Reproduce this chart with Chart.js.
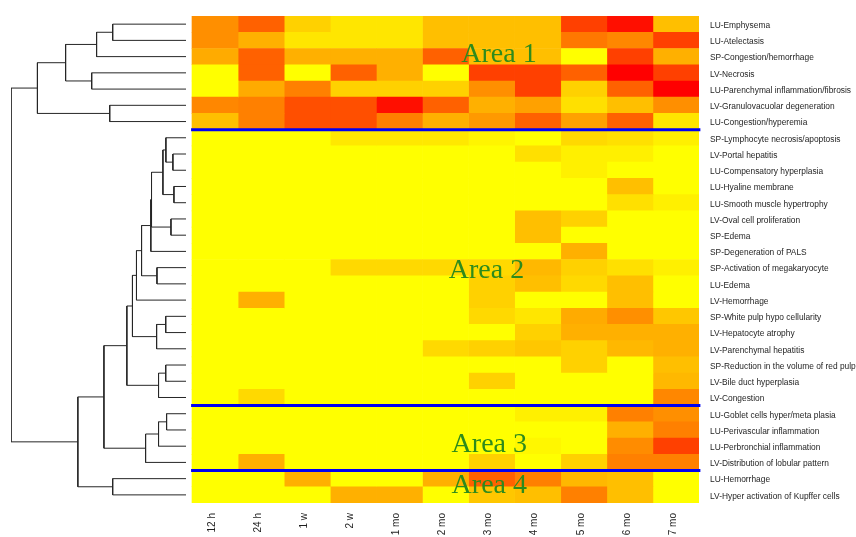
<!DOCTYPE html>
<html>
<head>
<meta charset="utf-8">
<script src="https://cdn.jsdelivr.net/npm/chart.js@4/dist/chart.umd.min.js"></script>
<style>
  html, body { margin: 0; padding: 0; background: #ffffff; }
  #wrap { width: 856px; height: 537px; }
</style>
</head>
<body>
<div id="wrap"><canvas id="c" width="856" height="537"></canvas></div>
<script>
// ---------------- DATA ----------------
const timePoints = ['12 h','24 h','1 w','2 w','1 mo','2 mo','3 mo','4 mo','5 mo','6 mo','7 mo'];

const lesions = [
  'LU-Emphysema',
  'LU-Atelectasis',
  'SP-Congestion/hemorrhage',
  'LV-Necrosis',
  'LU-Parenchymal inflammation/fibrosis',
  'LV-Granulovacuolar degeneration',
  'LU-Congestion/hyperemia',
  'SP-Lymphocyte necrosis/apoptosis',
  'LV-Portal hepatitis',
  'LU-Compensatory hyperplasia',
  'LU-Hyaline membrane',
  'LU-Smooth muscle hypertrophy',
  'LV-Oval cell proliferation',
  'SP-Edema',
  'SP-Degeneration of PALS',
  'SP-Activation of megakaryocyte',
  'LU-Edema',
  'LV-Hemorrhage',
  'SP-White pulp hypo cellularity',
  'LV-Hepatocyte atrophy',
  'LV-Parenchymal hepatitis',
  'SP-Reduction in the volume of red pulp',
  'LV-Bile duct hyperplasia',
  'LV-Congestion',
  'LU-Goblet cells hyper/meta plasia',
  'LU-Perivascular inflammation',
  'LU-Perbronchial inflammation',
  'LV-Distribution of lobular pattern',
  'LU-Hemorrhage',
  'LV-Hyper activation of Kupffer cells'
];

// Relative lesion intensity (0 = none, 100 = maximal), one row per lesion, one column per time point
const scores = [
  [44, 62, 18, 10, 10, 25, 25, 25, 75, 94, 25],
  [44, 31, 10, 10, 10, 25, 25, 25, 53, 47, 75],
  [33, 62, 31, 31, 31, 62, 25, 25,  0, 75, 31],
  [ 0, 62,  0, 62, 31,  0, 75, 75, 62,100, 75],
  [ 0, 33, 50, 18, 18, 18, 44, 75, 18, 62,100],
  [47, 50, 69, 69, 94, 62, 31, 37, 12, 25, 44],
  [25, 50, 69, 69, 50, 31, 40, 62, 37, 62, 10],
  [ 0,  0,  0,  9,  9,  9,  4,  0, 15, 12,  6],
  [ 0,  0,  0,  0,  0,  0,  0, 12,  6,  6,  0],
  [ 0,  0,  0,  0,  0,  0,  0,  0,  6,  0,  0],
  [ 0,  0,  0,  0,  0,  0,  0,  0,  0, 25,  0],
  [ 0,  0,  0,  0,  0,  0,  0,  0,  0, 12,  6],
  [ 0,  0,  0,  0,  0,  0,  0, 25, 18,  0,  0],
  [ 0,  0,  0,  0,  0,  0,  0, 25,  0,  0,  0],
  [ 0,  0,  0,  0,  0,  0,  0,  0, 31,  0,  0],
  [ 0,  0,  0, 15, 15, 15, 15, 28, 18, 12,  6],
  [ 0,  0,  0,  0,  0,  0, 18, 25, 15, 25,  0],
  [ 0, 31,  0,  0,  0,  0, 18,  0,  0, 25,  0],
  [ 0,  0,  0,  0,  0,  0, 15, 10, 33, 44, 22],
  [ 0,  0,  0,  0,  0,  0,  0, 18, 31, 31, 31],
  [ 0,  0,  0,  0,  0, 15, 18, 22, 18, 28, 31],
  [ 0,  0,  0,  0,  0,  0,  0,  0, 18,  0, 25],
  [ 0,  0,  0,  0,  0,  0, 18,  0,  0,  0, 28],
  [ 0, 15,  0,  0,  0,  0,  0,  0,  0,  0, 47],
  [ 0,  0,  0,  0,  0,  0,  0,  6,  6, 50, 44],
  [ 0,  0,  0,  0,  0,  0,  0,  0,  0, 31, 50],
  [ 0,  0,  0,  0,  0,  0,  0,  3,  0, 45, 75],
  [ 0, 31,  0,  0,  0,  0, 18,  0, 18, 50, 50],
  [ 0,  0, 31,  0,  0, 31, 62, 50, 28, 25,  0],
  [ 0,  0,  0, 31, 31,  0, 22, 25, 50, 25,  0]
];

// Hierarchical clustering of the rows (hclust convention: negative = leaf -(row+1), positive = earlier merge step)
const mergeLeft   = [-1,  1, -4,  2, -6,  4, -9, -8, -11,  8, -13, 10, 12, -16, 13, 15, -19, 17, 16, -22, 20, 19, -25, 23, 24, 22, -29, 26,  6];
const mergeRight  = [-2, -3, -5,  3, -7,  5, -10, 7, -12,  9, -14, 11, -15, -17, 14, -18, -20, -21, 18, -23, -24, 21, -26, -27, -28, 25, -30, 27, 28];
const mergeHeight = [4.19, 5.11, 5.39, 6.88, 4.36, 8.49, 0.75, 1.15, 0.69, 1.32, 0.86, 1.97, 2.01, 1.66, 2.54, 2.83, 1.16, 1.68, 3.06, 1.16, 1.57, 3.38, 1.11, 1.57, 2.31, 4.69, 4.19, 6.18, 10.0];

// Cluster areas (last row index of each area) and their names
const areaNames = ['Area 1', 'Area 2', 'Area 3', 'Area 4'];
const areaLastRow = [6, 23, 27, 29];

// ---------------- PRESENTATION ----------------
const layout = {
  xMin: -3.927,               // left part of the x axis holds the dendrogram
  leafX: -0.13,               // where dendrogram leaves end
  dendroUnit: 0.3797,         // x-units per unit of merge height
  areaText: [                 // label anchor (x in column units, y in row units)
    { x: 6.66, y: 2.32 },
    { x: 6.39, y: 15.66 },
    { x: 6.45, y: 26.37 },
    { x: 6.45, y: 28.87 }
  ]
};

function heatColor(v) {
  const g = Math.round(255 * (1 - v / 100));
  return 'rgb(255,' + g + ',0)';
}

// Heatmap: one floating-bar dataset per time point
const heatDatasets = timePoints.map((tp, c) => ({
  type: 'bar',
  label: tp,
  indexAxis: 'y',
  grouped: false,
  barPercentage: 1,
  categoryPercentage: 1,
  borderWidth: 0,
  order: 5,
  data: lesions.map((_, r) => ({ y: r, x: [c, c + 1] })),
  backgroundColor: ctx => heatColor(scores[ctx.dataIndex][c])
}));

// Dendrogram path built from the merge table
function buildDendrogram() {
  const nodeY = [], nodeH = [];
  const pts = [];
  const xOf = h => layout.leafX - h * layout.dendroUnit;
  const info = id => id < 0 ? { y: -id - 1, h: 0 } : { y: nodeY[id - 1], h: nodeH[id - 1] };
  for (let k = 0; k < mergeHeight.length; k++) {
    const a = info(mergeLeft[k]), b = info(mergeRight[k]);
    const H = mergeHeight[k];
    nodeY[k] = (a.y + b.y) / 2;
    nodeH[k] = H;
    pts.push({ x: xOf(a.h), y: a.y }, { x: xOf(H), y: a.y }, { x: xOf(H), y: b.y }, { x: xOf(b.h), y: b.y }, { x: null, y: null });
  }
  return pts;
}

function buildSeparators() {
  const pts = [];
  for (let i = 0; i < areaLastRow.length - 1; i++) {
    const b = areaLastRow[i] + 0.5;
    pts.push({ x: -0.02, y: b }, { x: timePoints.length + 0.03, y: b }, { x: null, y: null });
  }
  return pts;
}

const areaLabelPlugin = {
  id: 'areaLabels',
  afterDatasetsDraw(chart) {
    const { ctx, scales: { x, y } } = chart;
    ctx.save();
    ctx.font = '28px "Liberation Serif", "Times New Roman", serif';
    ctx.fillStyle = '#2E8B1C';
    ctx.textAlign = 'center';
    ctx.textBaseline = 'alphabetic';
    areaNames.forEach((name, i) => {
      const p = layout.areaText[i];
      ctx.fillText(name, x.getPixelForValue(p.x), y.getPixelForValue(p.y));
    });
    ctx.restore();
  }
};

new Chart(document.getElementById('c'), {
  data: {
    datasets: [
      {
        type: 'line',
        label: 'separators',
        data: buildSeparators(),
        borderColor: '#0000F0',
        borderWidth: 3,
        pointRadius: 0,
        spanGaps: false,
        tension: 0,
        fill: false,
        clip: false,
        order: 0
      },
      {
        type: 'line',
        label: 'dendrogram',
        data: buildDendrogram(),
        borderColor: '#262626',
        borderWidth: 1,
        pointRadius: 0,
        spanGaps: false,
        tension: 0,
        fill: false,
        order: 1
      },
      ...heatDatasets
    ]
  },
  options: {
    responsive: false,
    animation: false,
    events: [],
    layout: { padding: { left: 11, top: 11, right: 0, bottom: 0 } },
    plugins: { legend: { display: false }, tooltip: { enabled: false } },
    scales: {
      x: {
        type: 'linear',
        position: 'bottom',
        offset: false,
        min: layout.xMin,
        max: timePoints.length,
        grid: { display: false, drawTicks: false, offset: false },
        border: { display: false },
        afterBuildTicks: s => { s.ticks = timePoints.map((_, i) => ({ value: i + 0.5 })); },
        afterFit: s => { s.height = 34; },
        ticks: {
          autoSkip: false,
          minRotation: 90,
          maxRotation: 90,
          padding: 10,
          labelOffset: -3,
          color: '#1e1e1e',
          font: { family: '"Liberation Sans", Arial, sans-serif', size: 10 },
          callback: (v, i) => timePoints[i]
        }
      },
      y: {
        type: 'linear',
        position: 'right',
        reverse: true,
        offset: false,
        min: -0.5,
        max: lesions.length - 0.5,
        grid: { display: false, drawTicks: false, offset: false },
        border: { display: false },
        afterBuildTicks: s => { s.ticks = lesions.map((_, i) => ({ value: i })); },
        afterFit: s => { s.width = 157; },
        ticks: {
          autoSkip: false,
          padding: 11,
          labelOffset: 1.5,
          color: '#1e1e1e',
          font: { family: '"Liberation Sans", Arial, sans-serif', size: 8.4 },
          callback: (v, i) => lesions[i]
        }
      }
    }
  },
  plugins: [areaLabelPlugin]
});
</script>
</body>
</html>
